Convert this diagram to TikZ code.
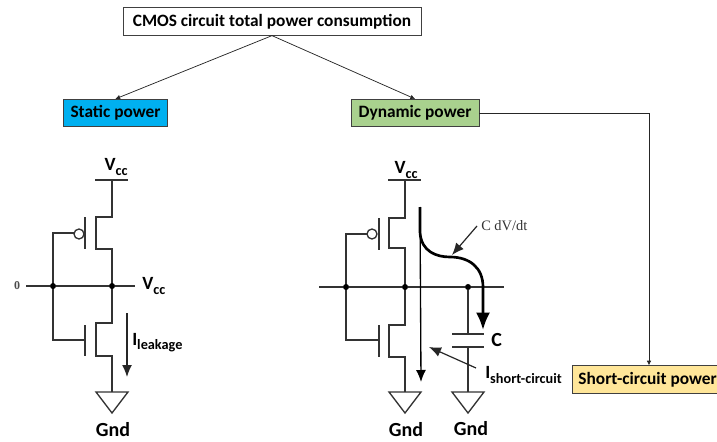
\documentclass[tikz,border=0pt]{standalone}
\usepackage{fontspec}
\setmainfont{Carlito}
\newfontfamily\paperfont{Liberation Serif}
\usetikzlibrary{arrows.meta}
\definecolor{staticblue}{HTML}{00B0F0}
\definecolor{dynamicgreen}{HTML}{A9D18E}
\definecolor{shortyellow}{HTML}{FFE699}
\newcommand{\lowtxt}[1]{\raisebox{-0.22em}{\fontsize{10.7}{11}\selectfont #1}}
\tikzset{
    titlebox/.style={draw=black!75, line width=0.7pt, inner sep=0pt, minimum height=20.5pt, font=\bfseries\fontsize{13}{15}\selectfont},
    wire/.style={draw=black!80, line width=1pt},
    joint/.style={fill=black, circle, inner sep=1.6pt},
    linkarrow/.style={draw=black!85, line width=0.55pt, -{Latex[length=3.5pt,width=3.5pt]}},
    textlabel/.style={font=\bfseries\fontsize{14}{16}\selectfont, inner sep=0pt},
    gndlabel/.style={font=\bfseries\fontsize{15}{17}\selectfont, inner sep=0pt},
}
\begin{document}
\begin{tikzpicture}[x=0.75pt, y=-0.75pt]
        \useasboundingbox (0,0) rectangle (717,442);

            % boxes
            \node[titlebox, fill=white, minimum width=223.5pt] (total) at (272,21.5) {CMOS circuit total power consumption};
            \node[titlebox, fill=staticblue, minimum width=78.5pt] (static) at (115.5,113) {Static power};
            \node[titlebox, fill=dynamicgreen, minimum width=96pt] (dynamic) at (415,113) {Dynamic power};
            \node[titlebox, fill=shortyellow, anchor=west, inner xsep=4.5pt] (short) at (572,379.5) {Short-circuit power};
            \coordinate (bend) at (649,113);

            \draw[linkarrow] (total.south) -- (static.north);
            \draw[linkarrow] (total.south) -- (dynamic.north);
            \draw[linkarrow] (dynamic.east) -- (bend) -- (bend |- short.north);

            % left inverter
            \draw[wire] (95,180) -- (128,180);
            \draw[wire] (112,180) -- (112,217) -- (96,217) -- (96,249) -- (112,249) -- (112,323) -- (96,323) -- (96,356) -- (112,356) -- (112,392);
            \draw[wire] (85,217) -- (85,249);
            \draw[wire] (85,325) -- (85,356);
            \draw[wire] (79,234) circle (5);
            \draw[wire] (74,233) -- (53,233) -- (53,340) -- (85,340);
            \draw[wire] (96,392) -- (128,392) -- (112,413) -- cycle;
            \node[joint] (leftin) at (53,286) {};
            \node[joint] (leftout) at (112,286) {};
            \coordinate (leftstart) at (26,286);
            \coordinate (leftend) at (135,286);
            \draw[wire] (leftstart) -- (leftin) -- (leftout) -- (leftend);
            \node[font=\paperfont\bfseries\fontsize{9}{10}\selectfont, text=black!70] (zero) at (17,286) {0};
            \coordinate (leaktop) at (127,313);
            \coordinate (leakend) at (127,377);
            \draw[draw=black!85, line width=1pt, -{Latex[length=9pt,width=7.5pt]}] (leaktop) -- (leakend);

            \node[textlabel] (vccleft) at (116,167) {V\lowtxt{cc}};
            \node[textlabel, anchor=west] (vccout) at (142,286) {V\lowtxt{cc}};
            \node[textlabel, anchor=west] (leak) at (132,343) {I\lowtxt{leakage}};
            \node[gndlabel] (gndleft) at (113,430) {Gnd};

            % right inverter
            \draw[wire] (388,180) -- (421,180);
            \draw[wire] (405,180) -- (405,218) -- (389,218) -- (389,248) -- (405,248) -- (405,325) -- (389,325) -- (389,357) -- (405,357) -- (405,392);
            \draw[wire] (379,218) -- (379,250);
            \draw[wire] (379,325) -- (379,357);
            \draw[wire] (372,234) circle (5);
            \draw[wire] (367,234) -- (346,234) -- (346,340) -- (379,340);
            \draw[wire] (389,392) -- (421,392) -- (405,413) -- cycle;
            \node[joint] (rightin) at (346,287) {};
            \node[joint] (rightout) at (405,287) {};
            \node[joint] (capin) at (468,287) {};
            \coordinate (rightstart) at (319,287);
            \coordinate (rightend) at (504,287);
            \draw[wire] (rightstart) -- (rightin) -- (rightout) -- (capin) -- (rightend);

            % capacitor
            \coordinate (platetop) at (468,334);
            \coordinate (platelow) at (468,347);
            \draw[wire] (capin) -- (platetop);
            \draw[wire, line width=1.3pt] (452,334) -- (484,334);
            \draw[wire, line width=1.3pt] (452,347) -- (484,347);
            \draw[wire] (platelow) -- (468,392);
            \draw[wire] (452,392) -- (484,392) -- (468,413) -- cycle;

            % currents
            \coordinate (flowtop) at (420,207);
            \coordinate (flowend) at (421,382);
            \coordinate (chargeend) at (483,330);
            \draw[draw=black, line width=1pt, -{Latex[length=9pt,width=7.5pt]}] (flowtop) -- (flowend);
            \draw[draw=black, line width=2pt, -{Latex[length=13pt,width=10.5pt]}] (flowtop) -- (420,232) .. controls (421,252) and (437,257) .. (450,257) .. controls (470,257) and (483,268) .. (483,287) -- (chargeend);

            \node[textlabel] (vccright) at (406,170) {V\lowtxt{cc}};
            \node[font=\paperfont\fontsize{10.8}{12}\selectfont, text=black!80, anchor=west, inner sep=0pt] (dvdt) at (481,226) {C dV/dt};
            \node[textlabel, anchor=west, font=\bfseries\fontsize{15}{17}\selectfont] (capname) at (491,340) {C};
            \node[textlabel, anchor=west] (shortname) at (485,375) {I\lowtxt{short-circuit}};
            \node[gndlabel] (gndmid) at (406,430) {Gnd};
            \node[gndlabel] (gndcap) at (471,429) {Gnd};

            \coordinate (dvtip) at (452,255);
            \coordinate (shorttip) at (429,347);
            \coordinate (dvtail) at (477,226);
            \coordinate (shorttail) at (476,368);
            \draw[draw=black!85, line width=0.9pt, -{Latex[length=9pt,width=7.5pt]}] (dvtail) -- (dvtip);
            \draw[draw=black!85, line width=0.9pt, -{Latex[length=9pt,width=7.5pt]}] (shorttail) -- (shorttip);

        \end{tikzpicture}
\end{document}
